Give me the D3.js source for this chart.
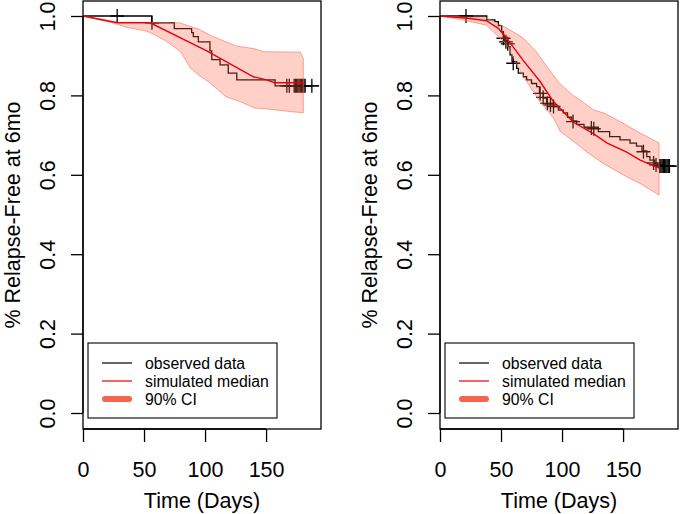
<!DOCTYPE html>
<html>
<head>
<meta charset="utf-8">
<script src="https://cdn.jsdelivr.net/npm/d3@7"></script>
<style>
  body { margin: 0; background: #fff; }
  svg { display: block; font-family: "Liberation Sans", Arial, sans-serif; }
</style>
</head>
<body>
<main></main>
<script>
'use strict';

// ---- data ----
const xTicks = [0, 50, 100, 150];
const yTicks = [0, 0.2, 0.4, 0.6, 0.8, 1.0];
const legendLabels = ['observed data', 'simulated median', '90% CI'];

// left panel
const leftObserved = [[0, 1], [56.3, 0.983], [74.8, 0.968], [89, 0.958], [90.4, 0.948], [94.5, 0.935],
  [104, 0.912], [105.5, 0.89], [112.3, 0.877], [119, 0.856], [126, 0.839], [157.4, 0.824], [193.5, 0.824]];
const leftCensored = [[28, 1], [56.5, 0.983], [167, 0.824], [169, 0.824], [173, 0.824], [174, 0.824],
  [175, 0.824], [176, 0.824], [177, 0.824], [178, 0.824], [179, 0.824], [180, 0.824], [181, 0.824],
  [182, 0.824], [187.5, 0.824]];
const leftMedian = [[0, 1], [28, 0.983], [55, 0.983], [101.4, 0.912], [139.6, 0.847], [150.5, 0.839],
  [157, 0.832], [180.5, 0.832]];
const leftUpper = [[0, 1], [28, 0.984], [55, 0.984], [79, 0.983], [94.5, 0.967], [106, 0.949],
  [126, 0.924], [140, 0.918], [148, 0.91], [178, 0.909], [180.5, 0.893]];
const leftLower = [[0, 1], [25, 0.982], [35, 0.972], [52, 0.962], [58, 0.954], [68, 0.937],
  [80, 0.91], [88, 0.869], [95, 0.851], [103, 0.834], [110, 0.816], [117, 0.797], [129, 0.784],
  [141, 0.768], [151, 0.766], [162, 0.762], [180.5, 0.756]];

// right panel
const rightObserved = [[0, 1], [38.3, 0.99], [45, 0.986], [47.8, 0.976], [50.5, 0.96], [51.9, 0.948],
  [53, 0.938], [56, 0.923], [57.4, 0.902], [59, 0.885], [62.8, 0.868], [64.2, 0.856], [68.3, 0.847],
  [71, 0.839], [75, 0.83], [79.2, 0.822], [81.5, 0.805], [84.7, 0.793], [87.4, 0.78], [92.9, 0.772],
  [97, 0.763], [101, 0.756], [104.5, 0.745], [108, 0.736], [112, 0.727], [118, 0.72], [129.7, 0.709],
  [139, 0.696], [147.5, 0.688], [155.7, 0.68], [161, 0.672], [165.5, 0.66], [169.4, 0.646],
  [172, 0.637], [176, 0.628], [178.5, 0.622], [194, 0.622]];
const rightCensored = [[21.3, 1], [52, 0.944], [54, 0.935], [55.5, 0.93], [60, 0.881], [82, 0.805],
  [84.5, 0.795], [88, 0.78], [90.5, 0.776], [93, 0.772], [109, 0.734], [124, 0.718], [126, 0.716],
  [166.7, 0.658], [175, 0.63], [177, 0.625], [180, 0.622], [181, 0.622], [182, 0.622], [183, 0.622],
  [184, 0.622], [185, 0.622], [186, 0.622], [187, 0.622], [188, 0.622]];
const rightMedian = [[0, 1], [21, 0.995], [38, 0.988], [47.8, 0.969], [54.6, 0.944], [68, 0.889],
  [82, 0.835], [92.8, 0.785], [109, 0.733], [125, 0.705], [137, 0.68], [153, 0.657], [164, 0.637],
  [179.5, 0.617]];
const rightUpper = [[0, 1], [38, 0.995], [46.5, 0.982], [55, 0.969], [68, 0.945], [79, 0.91],
  [90, 0.862], [98, 0.83], [109, 0.8], [115, 0.788], [126, 0.763], [134, 0.756], [147.5, 0.734],
  [164, 0.705], [179.5, 0.68]];
const rightLower = [[0, 1], [19, 0.99], [38, 0.977], [55, 0.927], [63, 0.877], [71, 0.835],
  [82, 0.784], [93, 0.743], [98.4, 0.71], [114.8, 0.671], [120, 0.658], [134, 0.628], [153, 0.595],
  [164, 0.578], [179.5, 0.549]];

const W = 680, H = 514;
const box = { left: 83, right: 321, top: 1, bottom: 429 };
const panelShift = 357;

const svg = d3.select('main').append('svg')
  .attr('width', W)
  .attr('height', H);

const x = d3.scaleLinear().domain([0, 195]).range([box.left, box.right]);
const y = d3.scaleLinear().domain([0, 1]).range([413, 16]);

const line = d3.line().x(d => x(d[0])).y(d => y(d[1]));
const stepLine = d3.line().x(d => x(d[0])).y(d => y(d[1])).curve(d3.curveStepAfter);

const drawPanel = (shift, observed, censored, median, upper, lower) => {
  const g = svg.append('g').attr('transform', 'translate(' + shift + ',0)');

  // observed KM curve
  g.append('path')
    .attr('d', stepLine(observed))
    .attr('fill', 'none')
    .attr('stroke', '#000')
    .attr('stroke-width', 1.3);

  g.selectAll('path.cens')
    .data(censored)
    .enter()
    .append('path')
    .attr('class', 'cens')
    .attr('d', d => {
      const cx = x(d[0]), cy = y(d[1]);
      return 'M' + (cx - 7) + ',' + cy + 'H' + (cx + 7) + 'M' + cx + ',' + (cy - 7) + 'V' + (cy + 7);
    })
    .attr('stroke', '#000')
    .attr('stroke-width', 1.3);

  // 90% CI band on top, semi transparent
  g.append('path')
    .attr('d', line(upper.concat(lower.slice().reverse())) + 'Z')
    .attr('fill', 'rgb(255,99,71)')
    .attr('fill-opacity', 0.3)
    .attr('stroke', 'rgb(245,110,90)')
    .attr('stroke-opacity', 0.6)
    .attr('stroke-width', 1);

  // simulated median
  g.append('path')
    .attr('d', line(median))
    .attr('fill', 'none')
    .attr('stroke', '#e8000b')
    .attr('stroke-width', 1.4);

  // frame
  g.append('rect')
    .attr('x', box.left)
    .attr('y', box.top)
    .attr('width', box.right - box.left)
    .attr('height', box.bottom - box.top)
    .attr('fill', 'none')
    .attr('stroke', '#000')
    .attr('stroke-width', 1.3);

  // x axis
  const xAxis = d3.axisBottom(x)
    .tickValues(xTicks)
    .tickSize(13)
    .tickPadding(20)
    .tickFormat(d3.format('d'));
  const gx = g.append('g')
    .attr('transform', 'translate(0,' + box.bottom + ')')
    .call(xAxis);
  gx.select('.domain').attr('d', 'M' + x(0) + ',0H' + x(150)).attr('stroke-width', 1.3);
  gx.selectAll('.tick line').attr('stroke-width', 1.3);
  gx.selectAll('.tick text')
    .attr('font-size', 21.5)
    .attr('font-family', '"Liberation Sans", Arial, sans-serif')
    .attr('fill', '#000');

  // y axis
  const yAxis = d3.axisLeft(y)
    .tickValues(yTicks)
    .tickSize(12)
    .tickFormat(d3.format('.1f'));
  const gy = g.append('g')
    .attr('transform', 'translate(' + box.left + ',0)')
    .call(yAxis);
  gy.select('.domain').attr('d', 'M0,' + y(0) + 'V' + y(1)).attr('stroke-width', 1.3);
  gy.selectAll('.tick line').attr('stroke-width', 1.3);
  gy.selectAll('.tick text')
    .attr('font-size', 21.5)
    .attr('font-family', '"Liberation Sans", Arial, sans-serif')
    .attr('fill', '#000')
    .attr('text-anchor', 'middle')
    .attr('x', null)
    .attr('dy', '0.36em')
    .attr('transform', 'translate(-36,0) rotate(-90)');

  // axis titles
  g.append('text')
    .attr('x', (box.left + box.right) / 2)
    .attr('y', 507.5)
    .attr('text-anchor', 'middle')
    .attr('font-size', 21.5)
    .text('Time (Days)');

  g.append('text')
    .attr('transform', 'translate(12,' + ((box.top + box.bottom) / 2) + ') rotate(-90)')
    .attr('dy', '0.36em')
    .attr('text-anchor', 'middle')
    .attr('font-size', 21.5)
    .text('% Relapse-Free at 6mo');

  // legend
  const lg = g.append('g').attr('transform', 'translate(88,343)');
  lg.append('rect')
    .attr('width', 189)
    .attr('height', 75)
    .attr('fill', '#fff')
    .attr('stroke', '#000')
    .attr('stroke-width', 1.1);
  const legendStyles = [
    { color: '#000', width: 1.2, cap: 'butt' },
    { color: '#e8000b', width: 1.2, cap: 'butt' },
    { color: '#f5644c', width: 6, cap: 'round' }
  ];
  const rows = lg.selectAll('g.row')
    .data(legendLabels)
    .enter()
    .append('g')
    .attr('class', 'row')
    .attr('transform', (d, i) => 'translate(0,' + (20 + i * 18) + ')');
  rows.append('line')
    .attr('x1', (d, i) => legendStyles[i].cap === 'round' ? 17 : 14)
    .attr('x2', (d, i) => legendStyles[i].cap === 'round' ? 41 : 44)
    .attr('stroke', (d, i) => legendStyles[i].color)
    .attr('stroke-width', (d, i) => legendStyles[i].width)
    .attr('stroke-linecap', (d, i) => legendStyles[i].cap);
  rows.append('text')
    .attr('x', 57)
    .attr('dy', '0.36em')
    .attr('font-size', 15.8)
    .text(d => d);
};

drawPanel(0, leftObserved, leftCensored, leftMedian, leftUpper, leftLower);
drawPanel(panelShift, rightObserved, rightCensored, rightMedian, rightUpper, rightLower);
</script>
</body>
</html>
